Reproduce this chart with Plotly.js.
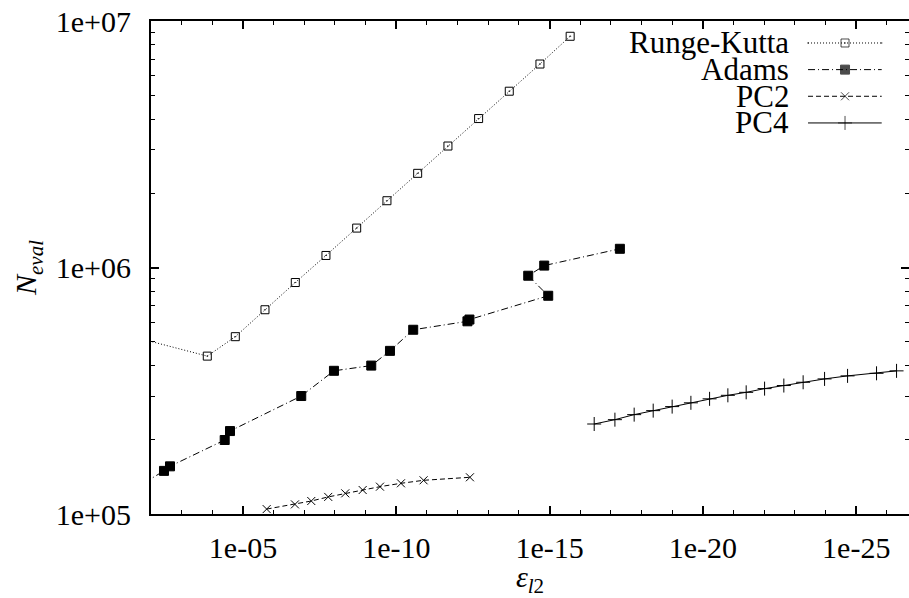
<!DOCTYPE html>
<html>
<head>
<meta charset="utf-8">
<script src="https://cdn.plot.ly/plotly-3.0.1.min.js"></script>
</head>
<body style="margin:0;background:#fff">
<div id="chart" style="width:909px;height:598px"></div>
<script>
// ---- data ----
const seriesNames = ["Runge-Kutta", "Adams", "PC2", "PC4"];

const rkErr = [1e-1, 1.46e-4, 1.78e-5, 1.92e-6, 1.97e-7, 1.97e-8, 1.96e-9, 2.02e-10, 2.01e-11, 2.07e-12, 2.07e-13, 2.07e-14, 2.07e-15, 2.14e-16];
const rkEval = [5.40e5, 4.37e5, 5.24e5, 6.74e5, 8.69e5, 1.119e6, 1.445e6, 1.866e6, 2.41e6, 3.11e6, 4.02e6, 5.19e6, 6.69e6, 8.67e6];

const adamsErr = [1e-1, 3.77e-3, 2.40e-3, 3.95e-5, 2.65e-5, 1.26e-7, 1.08e-8, 6.56e-10, 1.61e-10, 2.81e-11, 4.79e-13, 4.12e-13, 1.11e-15, 4.99e-15, 1.50e-15, 5.11e-18];
const adamsEval = [1.17e5, 1.496e5, 1.561e5, 1.996e5, 2.17e5, 3.01e5, 3.81e5, 4.00e5, 4.59e5, 5.59e5, 6.05e5, 6.15e5, 7.68e5, 9.26e5, 1.018e6, 1.191e6];

const pc2Err = [1.69e-6, 2.02e-7, 5.93e-8, 1.66e-8, 4.62e-9, 1.25e-9, 3.41e-10, 7.06e-11, 1.29e-11, 3.97e-13];
const pc2Eval = [1.047e5, 1.094e5, 1.129e5, 1.173e5, 1.213e5, 1.251e5, 1.291e5, 1.332e5, 1.370e5, 1.409e5];

const pc4Err = [3.52e-17, 7.43e-18, 1.75e-18, 4.19e-19, 1.01e-19, 2.47e-20, 6.07e-21, 1.54e-21, 3.89e-22, 9.77e-23, 2.30e-23, 5.40e-24, 1.08e-24, 1.92e-25, 2.18e-26, 4.85e-27];
const pc4Eval = [2.318e5, 2.414e5, 2.53e5, 2.626e5, 2.727e5, 2.825e5, 2.932e5, 3.03e5, 3.116e5, 3.226e5, 3.32e5, 3.423e5, 3.532e5, 3.633e5, 3.722e5, 3.808e5];

const xTickVals = [1e-5, 1e-10, 1e-15, 1e-20, 1e-25];
const xTickText = ["1e-05", "1e-10", "1e-15", "1e-20", "1e-25"];
const yTickVals = [1e5, 1e6, 1e7];
const yTickText = ["1e+05", "1e+06", "1e+07"];

// ---- styles ----
const FONT = "serif";
const styles = [
  {dash: "1px,2px", symbol: "square-open-dot", size: 8, lw: 1},
  {dash: "7px,3px,1px,3px", symbol: "square", size: 9, lw: 1},
  {dash: "5px,3px", symbol: "x-thin-open", size: 8, lw: 1},
  {dash: "solid", symbol: "cross-thin-open", size: 10, lw: 1}
];
const dataX = [rkErr, adamsErr, pc2Err, pc4Err];
const dataY = [rkEval, adamsEval, pc2Eval, pc4Eval];

const minorX = [];
for (let e = -2; e >= -27; e--) minorX.push(Math.pow(10, e));
const minorY = [];
for (let d = 5; d <= 6; d++) for (let m = 2; m <= 9; m++) minorY.push(m * Math.pow(10, d));

const traces = [];
seriesNames.forEach((name, i) => {
  const s = styles[i];
  traces.push({
    x: dataX[i], y: dataY[i], name: name, type: "scatter", mode: "lines+markers",
    line: {color: "#000", width: s.lw, dash: s.dash},
    marker: {symbol: s.symbol, size: s.size, color: "#000", line: {color: "#000", width: 1}},
    showlegend: false, cliponaxis: true
  });
});

// key (gnuplot-style: text right-aligned, sample to the right)
const keyRows = [0.9554, 0.9014, 0.8473, 0.7932];
const keySample = [0.8668, 0.9156, 0.964];
const annotations = [];
seriesNames.forEach((name, i) => {
  const s = styles[i];
  traces.push({
    x: keySample, y: [keyRows[i], keyRows[i], keyRows[i]], xaxis: "x2", yaxis: "y2",
    type: "scatter", mode: "lines+markers", showlegend: false, hoverinfo: "skip",
    line: {color: "#000", width: s.lw, dash: s.dash},
    marker: {symbol: s.symbol, size: [0, s.size, 0], color: "#000", line: {color: "#000", width: 1}}
  });
  annotations.push({
    xref: "paper", yref: "paper", x: 0.8439, y: keyRows[i], xanchor: "right", yanchor: "middle",
    text: name, showarrow: false, font: {family: FONT, size: 31, color: "#000"}
  });
});

const layout = {
  width: 909, height: 598,
  margin: {l: 151, r: 0, t: 21, b: 84},
  paper_bgcolor: "#fff", plot_bgcolor: "#fff",
  showlegend: false,
  font: {family: FONT, size: 30, color: "#000"},
  xaxis: {
    type: "log", range: [-2, -26.72], autorange: false,
    tickmode: "array", tickvals: xTickVals, ticktext: xTickText,
    ticks: "inside", ticklen: 8, tickwidth: 1.5, tickcolor: "#000",
    minor: {tickvals: minorX, ticks: "inside", ticklen: 4, tickwidth: 1.2, tickcolor: "#000", showgrid: false},
    showline: true, linecolor: "#000", linewidth: 2, mirror: "ticks",
    showgrid: false, zeroline: false,
    tickfont: {family: FONT, size: 30, color: "#000"},
    ticklabelstandoff: 6,
    title: {text: "<i>ε</i><sub><i>l</i>2</sub>", font: {family: FONT, size: 30, color: "#000"}, standoff: 10}
  },
  yaxis: {
    type: "log", range: [5, 7], autorange: false,
    tickmode: "array", tickvals: yTickVals, ticktext: yTickText,
    ticks: "inside", ticklen: 8, tickwidth: 1.5, tickcolor: "#000",
    minor: {tickvals: minorY, ticks: "inside", ticklen: 4, tickwidth: 1.2, tickcolor: "#000", showgrid: false},
    showline: true, linecolor: "#000", linewidth: 2, mirror: "ticks",
    showgrid: false, zeroline: false,
    tickfont: {family: FONT, size: 30, color: "#000"},
    ticklabelstandoff: 12,
    title: {text: "<i>N</i><sub><i>eval</i></sub>", font: {family: FONT, size: 30, color: "#000"}, standoff: 10}
  },
  xaxis2: {overlaying: "x", range: [0, 1], visible: false, fixedrange: true},
  yaxis2: {overlaying: "y", range: [0, 1], visible: false, fixedrange: true},
  annotations: annotations
};

Plotly.newPlot("chart", traces, layout, {displayModeBar: false});
</script>
</body>
</html>
